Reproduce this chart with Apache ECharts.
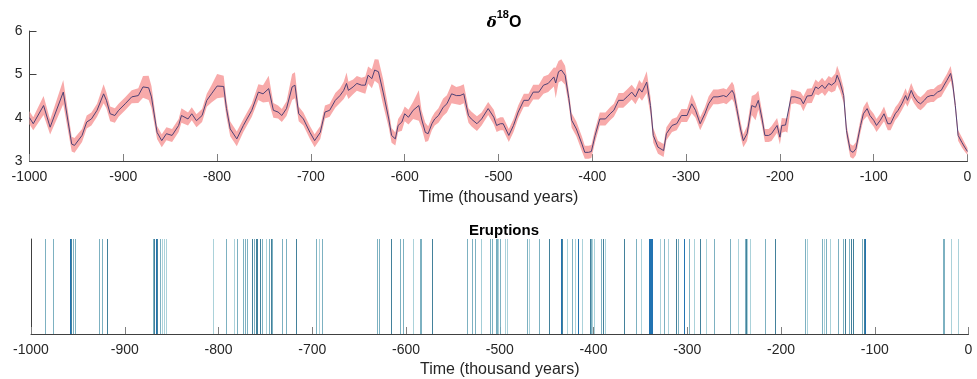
<!DOCTYPE html>
<html>
<head>
<meta charset="utf-8">
<script src="https://cdn.jsdelivr.net/npm/echarts@6/dist/echarts.min.js"></script>
<style>html,body{margin:0;padding:0;background:#fff}#c{width:977px;height:379px}</style>
</head>
<body>
<div id="c"></div>
<script>
// ---- δ18O record (thousand years, per mil) ----
const time = [-1000,-996,-985,-978,-964,-955,-952,-944,-939,-934,-928,-921,-918,-914,-909,-905,-898,-891,-884,-879,-873,-870,-864,-859,-854,-848,-841,-838,-831,-827,-822,-816,-811,-806,-800,-793,-790,-786,-779,-772,-763,-756,-751,-745,-740,-735,-731,-726,-720,-717,-713,-708,-701,-696,-690,-685,-680,-674,-669,-665,-662,-660,-655,-651,-646,-642,-639,-635,-632,-628,-623,-617,-614,-610,-607,-603,-600,-596,-591,-585,-582,-578,-575,-571,-568,-564,-559,-555,-550,-545,-541,-537,-532,-529,-523,-518,-511,-505,-502,-498,-495,-489,-484,-479,-473,-468,-463,-457,-452,-447,-441,-439,-436,-433,-429,-425,-422,-417,-411,-408,-404,-401,-397,-392,-386,-381,-377,-372,-367,-363,-358,-354,-350,-347,-342,-338,-335,-330,-324,-321,-315,-310,-305,-299,-294,-290,-285,-280,-276,-271,-266,-260,-257,-251,-249,-246,-242,-239,-235,-230,-226,-223,-219,-216,-212,-209,-203,-200,-198,-194,-192,-188,-184,-178,-175,-171,-166,-162,-159,-155,-152,-148,-145,-141,-139,-136,-132,-129,-125,-122,-119,-114,-111,-107,-104,-100,-97,-93,-89,-85,-82,-77,-74,-70,-66,-64,-60,-57,-53,-50,-46,-43,-39,-36,-32,-28,-25,-22,-18,-16,-13,-10,-6,-3,0];
const d18O = [4.00,3.86,4.28,3.78,4.59,3.39,3.36,3.59,3.90,3.97,4.17,4.55,4.40,4.09,4.05,4.17,4.32,4.48,4.51,4.71,4.69,4.48,3.66,3.47,3.63,3.59,3.82,4.05,3.97,4.09,3.93,4.05,4.40,4.55,4.73,4.72,4.21,3.74,3.51,3.82,4.17,4.59,4.55,4.67,4.17,4.13,4.05,4.21,4.71,4.75,4.09,3.97,3.66,3.47,3.66,4.13,4.17,4.40,4.51,4.63,4.79,4.63,4.71,4.79,4.75,4.75,4.98,4.90,5.10,5.06,4.59,3.97,3.59,3.51,3.82,3.90,4.09,4.01,4.17,4.28,3.97,3.66,3.63,3.86,3.97,4.05,4.24,4.32,4.55,4.51,4.51,4.55,4.05,3.97,3.86,3.97,4.21,4.01,3.82,3.86,3.86,3.59,3.82,4.13,4.40,4.40,4.59,4.59,4.75,4.79,4.94,4.80,5.06,5.10,4.98,4.44,3.94,3.74,3.39,3.20,3.20,3.22,3.59,3.97,3.97,4.09,4.17,4.40,4.40,4.48,4.59,4.48,4.67,4.59,4.82,4.28,3.59,3.32,3.24,3.63,3.82,3.86,4.05,4.05,4.32,4.17,3.86,4.09,4.32,4.48,4.48,4.51,4.48,4.63,4.55,4.21,3.74,3.47,3.63,4.28,4.24,4.40,3.97,3.59,3.59,3.63,3.82,3.55,3.82,3.83,3.82,4.48,4.48,4.44,4.32,4.50,4.51,4.71,4.67,4.75,4.67,4.79,4.75,4.82,4.98,4.82,4.51,3.70,3.24,3.20,3.28,3.82,4.09,4.21,4.05,3.94,3.82,3.94,4.09,3.86,3.86,4.09,4.17,4.32,4.51,4.40,4.63,4.48,4.36,4.32,4.40,4.48,4.51,4.51,4.59,4.63,4.75,4.86,5.02,4.82,4.28,3.59,3.43,3.32,3.22];
const err = [.15,.15,.22,.17,.28,.17,.17,.15,.15,.15,.15,.22,.18,.17,.17,.15,.15,.15,.17,.25,.28,.25,.15,.15,.15,.15,.15,.17,.15,.15,.15,.15,.15,.2,.28,.25,.2,.17,.17,.15,.15,.18,.2,.3,.17,.15,.15,.17,.3,.3,.17,.15,.15,.15,.15,.15,.15,.17,.17,.2,.25,.2,.17,.17,.17,.2,.2,.22,.25,.28,.3,.2,.17,.15,.15,.2,.17,.17,.2,.35,.2,.22,.17,.15,.15,.17,.2,.2,.22,.2,.22,.22,.17,.17,.17,.15,.15,.17,.15,.15,.15,.15,.15,.15,.15,.15,.17,.17,.2,.2,.22,.35,.25,.25,.22,.17,.17,.17,.17,.15,.15,.15,.15,.15,.15,.15,.15,.17,.17,.17,.17,.17,.2,.2,.25,.2,.17,.15,.15,.15,.15,.15,.15,.15,.22,.17,.15,.15,.17,.17,.17,.17,.17,.2,.2,.17,.17,.15,.17,.22,.3,.22,.17,.15,.15,.17,.17,.17,.17,.15,.17,.17,.15,.15,.17,.17,.17,.17,.15,.17,.17,.17,.17,.2,.22,.2,.17,.15,.15,.15,.15,.15,.15,.17,.15,.15,.15,.15,.17,.15,.15,.15,.15,.15,.17,.15,.17,.15,.15,.15,.15,.15,.15,.15,.15,.15,.15,.15,.17,.15,.12,.12,.12,.1,.08];

// ---- Eruptions (thousand years) and intensity class 1..4 ----
const eruptTime = [-985,-976,-958,-957,-955,-953,-927,-924,-918,-869,-868,-866,-865,-862,-860,-858,-856,-805,-792,-783,-780,-773,-771,-769,-764,-762,-760,-758,-755,-753,-749,-746,-744,-742,-732,-728,-717,-695,-692,-689,-630,-628,-615,-606,-603,-592,-585,-583,-572,-534,-529,-526,-520,-519,-510,-508,-504,-503,-502,-501,-499,-494,-492,-470,-468,-458,-447,-434,-433,-428,-422,-419,-416,-412,-403,-402,-401,-399,-391,-389,-387,-367,-354,-349,-340,-339,-338,-337,-329,-324,-320,-312,-309,-303,-298,-292,-286,-279,-271,-254,-245,-238,-237,-236,-233,-217,-206,-174,-172,-156,-154,-152,-147,-139,-133,-131,-127,-125,-123,-113,-111,-110,-27,-26,-18,-11];
const eruptClass = [2,2,4,3,2,2,2,2,3,2,3,4,3,2,1,1,1,1,2,1,2,2,2,2,3,2,3,3,3,2,1,2,3,2,2,2,3,2,1,2,2,2,3,2,2,1,2,2,3,2,2,2,1,1,2,2,1,2,2,1,2,1,1,2,1,2,3,4,3,1,2,1,4,1,3,2,1,1,2,3,1,3,2,1,4,4,4,4,1,2,1,3,2,4,2,1,3,1,2,2,1,2,3,1,1,2,3,2,1,2,1,2,1,2,2,3,2,3,3,2,3,4,2,2,1,1];

const xTicks = {min: -1000, max: 0, interval: 100};

const lineData = time.map((t, i) => [t, d18O[i]]);
const bandData = time.map((t, i) => [t, d18O[i] - err[i], d18O[i] + err[i]]);
const eruptData = eruptTime.map((t, i) => [t, eruptClass[i]]);

const FONT = '"Liberation Sans", Arial, sans-serif';
const axisCol = '#404040';
const txtCol = '#262626';
const eruptColors = {1: '#a2cdd6', 2: '#6fa8ba', 3: '#2f7390', 4: '#0a64a8'};

function xAxisCfg(gridIndex, gap) {
  return {
    type: 'value', gridIndex, min: xTicks.min, max: xTicks.max, interval: xTicks.interval,
    name: 'Time (thousand years)', nameLocation: 'middle', nameGap: gap,
    nameTextStyle: {color: txtCol, fontSize: 16, fontFamily: FONT},
    axisLine: {show: true, onZero: false, lineStyle: {color: axisCol, width: 1}},
    axisTick: {show: true, inside: true, length: 7, lineStyle: {color: '#808080'}},
    axisLabel: {color: txtCol, fontSize: 14, fontFamily: FONT, margin: 9, formatter: v => String(v)},
    splitLine: {show: false}
  };
}

const chart = echarts.init(document.getElementById('c'), null, {renderer: 'canvas'});
chart.setOption({
  animation: false,
  backgroundColor: '#fff',
  title: [
    {
      text: '{d|δ}{s|18}{o|O}', left: 499, top: 4, textAlign: 'center',
      textStyle: {
        rich: {
          d: {fontSize: 15, fontStyle: 'italic', fontFamily: '"DejaVu Serif", serif', color: '#000', lineHeight: 22, verticalAlign: 'bottom'},
          s: {fontSize: 11, fontWeight: 'bold', fontFamily: FONT, color: '#000', lineHeight: 22, verticalAlign: 'top'},
          o: {fontSize: 16, fontWeight: 'bold', fontFamily: FONT, color: '#000', lineHeight: 22, verticalAlign: 'bottom'}
        }
      }
    },
    {
      text: 'Eruptions', left: 499, top: 218, textAlign: 'center',
      textStyle: {fontSize: 15, fontWeight: 'bold', fontFamily: FONT, color: '#000'}
    }
  ],
  grid: [
    {left: 29.5, width: 938, top: 31, height: 130},
    {left: 31, width: 937.5, top: 239, height: 95}
  ],
  xAxis: [xAxisCfg(0, 29), xAxisCfg(1, 28)],
  yAxis: [
    {
      type: 'value', gridIndex: 0, min: 3, max: 6, interval: 1,
      axisLine: {show: true, onZero: false, lineStyle: {color: axisCol, width: 1}},
      axisTick: {show: true, inside: true, length: 7, lineStyle: {color: axisCol}},
      axisLabel: {color: txtCol, fontSize: 14, fontFamily: FONT, margin: 7},
      splitLine: {show: false}
    },
    {
      type: 'value', gridIndex: 1, min: 0, max: 1,
      axisLine: {show: true, onZero: false, lineStyle: {color: axisCol, width: 1}},
      axisTick: {show: false}, axisLabel: {show: false}, splitLine: {show: false}
    }
  ],
  series: [
    {
      type: 'custom', xAxisIndex: 0, yAxisIndex: 0, data: bandData, silent: true,
      encode: {x: 0, y: [1, 2]},
      renderItem: function (params, api) {
        if (params.dataIndex !== 0) return null;
        const upper = bandData.map(d => api.coord([d[0], d[2]]));
        const lower = bandData.map(d => api.coord([d[0], d[1]])).reverse();
        return {
          type: 'polygon',
          shape: {points: upper.concat(lower)},
          style: {fill: '#f8aaaa', stroke: 'none'}
        };
      }
    },
    {
      type: 'line', xAxisIndex: 0, yAxisIndex: 0, data: lineData,
      symbol: 'none', lineStyle: {color: '#4f4275', width: 1}
    },
    {
      type: 'custom', xAxisIndex: 1, yAxisIndex: 1, data: eruptData, silent: true,
      encode: {x: 0, y: 1},
      renderItem: function (params, api) {
        const t = api.value(0);
        const cls = api.value(1);
        const p0 = api.coord([t, 0]);
        const p1 = api.coord([t, 1]);
        return {
          type: 'rect',
          shape: {x: Math.floor(p0[0]), y: p1[1], width: 1, height: p0[1] - p1[1]},
          style: {fill: eruptColors[cls], opacity: 0.9}
        };
      }
    }
  ]
});
</script>
</body>
</html>
